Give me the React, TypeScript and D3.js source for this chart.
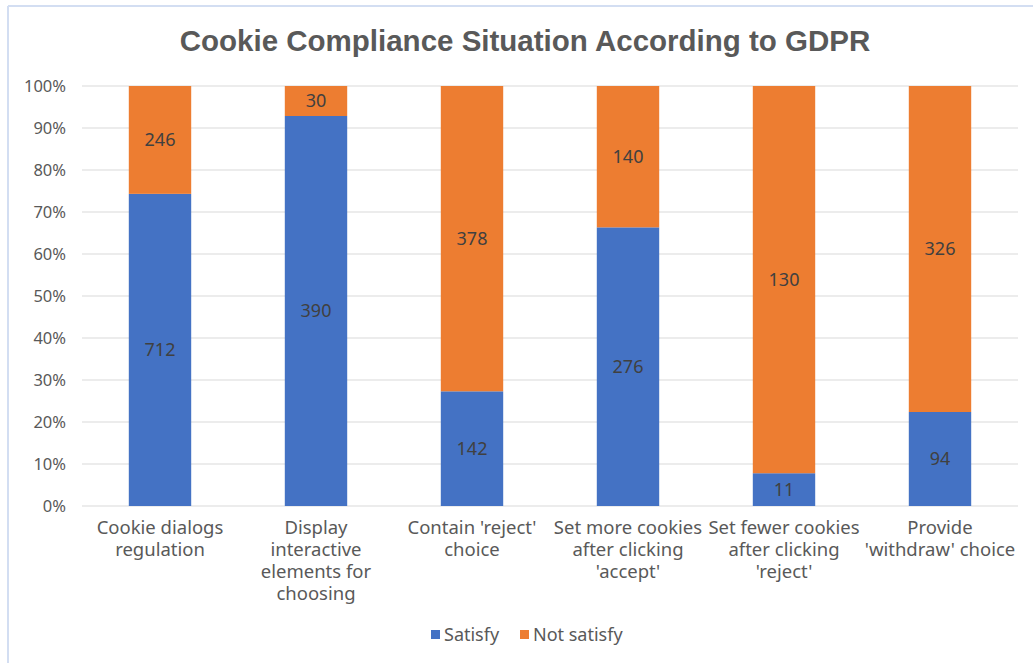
import React from "react";
import * as d3 from "d3";

const categories: string[][] = [
  ["Cookie dialogs", "regulation"],
  ["Display", "interactive", "elements for", "choosing"],
  ["Contain 'reject'", "choice"],
  ["Set more cookies", "after clicking", "'accept'"],
  ["Set fewer cookies", "after clicking", "'reject'"],
  ["Provide", "'withdraw' choice"],
];
const satisfy = [712, 390, 142, 276, 11, 94];
const notSatisfy = [246, 30, 378, 140, 130, 326];
const yTicks = [0, 0.1, 0.2, 0.3, 0.4, 0.5, 0.6, 0.7, 0.8, 0.9, 1];
const seriesNames = ["Satisfy", "Not satisfy"];
const colors = ["#4472C4", "#ED7D31"];

const W = 1033;
const H = 663;
const plot = { left: 82, right: 1018, top: 86, bottom: 506 };

export default function App() {
  const x = d3
    .scaleBand<number>()
    .domain(categories.map((_, i) => i))
    .range([plot.left, plot.right])
    .paddingInner(0.6)
    .paddingOuter(0.3);
  const y = d3.scaleLinear().domain([0, 1]).range([plot.bottom, plot.top]);
  const pct = d3.format(".0%");

  const rows = categories.map((c, i) => {
    const total = satisfy[i] + notSatisfy[i];
    return { i, s: satisfy[i], n: notSatisfy[i], sf: satisfy[i] / total };
  });

  const font = "'Noto Sans', 'Open Sans', Arial, sans-serif";

  return (
    <svg
      width={W}
      height={H}
      style={{ position: "absolute", left: 0, top: 0, background: "#fff" }}
    >
      {/* frame */}
      <line x1={8} x2={W} y1={6} y2={6} stroke="#d3def2" strokeWidth={2} />
      <line x1={8} x2={8} y1={6} y2={H} stroke="#d3def2" strokeWidth={2} />

      <text
        x={525}
        y={51}
        textAnchor="middle"
        fontFamily="'Liberation Sans', Arial, sans-serif"
        fontWeight="bold"
        fontSize={29.5}
        fill="#595959"
      >
        Cookie Compliance Situation According to GDPR
      </text>

      {/* gridlines and y ticks */}
      {yTicks.map((t) => (
        <g key={t}>
          <line
            x1={plot.left}
            x2={plot.right}
            y1={y(t)}
            y2={y(t)}
            stroke="#d9d9d9"
            strokeWidth={1}
          />
          <text
            x={66}
            y={y(t)}
            dy="0.35em"
            textAnchor="end"
            fontFamily={font}
            fontSize={16.5}
            fill="#595959"
          >
            {pct(t)}
          </text>
        </g>
      ))}

      {/* stacked bars */}
      {rows.map((r) => {
        const x0 = x(r.i)!;
        const bw = x.bandwidth();
        const cx = x0 + bw / 2;
        return (
          <g key={r.i}>
            <rect
              x={x0}
              y={y(r.sf)}
              width={bw}
              height={y(0) - y(r.sf)}
              fill={colors[0]}
            />
            <rect
              x={x0}
              y={y(1)}
              width={bw}
              height={y(r.sf) - y(1)}
              fill={colors[1]}
            />
            <text
              x={cx}
              y={(y(0) + y(r.sf)) / 2}
              dy="0.35em"
              textAnchor="middle"
              fontFamily={font}
              fontSize={18}
              fill="#404040"
            >
              {r.s}
            </text>
            <text
              x={cx}
              y={(y(r.sf) + y(1)) / 2}
              dy="0.35em"
              textAnchor="middle"
              fontFamily={font}
              fontSize={18}
              fill="#404040"
            >
              {r.n}
            </text>
            <text
              x={cx}
              y={534}
              textAnchor="middle"
              fontFamily={font}
              fontSize={18.5}
              fill="#595959"
            >
              {categories[r.i].map((line, k) => (
                <tspan key={k} x={cx} dy={k === 0 ? 0 : 22}>
                  {line}
                </tspan>
              ))}
            </text>
          </g>
        );
      })}

      {/* legend */}
      {[
        { x: 431, name: seriesNames[0], c: colors[0] },
        { x: 520, name: seriesNames[1], c: colors[1] },
      ].map((l) => (
        <g key={l.name}>
          <rect x={l.x} y={630} width={9} height={9} fill={l.c} />
          <text
            x={l.x + 13}
            y={635}
            dy="0.35em"
            fontFamily={font}
            fontSize={18}
            fill="#595959"
          >
            {l.name}
          </text>
        </g>
      ))}
    </svg>
  );
}
